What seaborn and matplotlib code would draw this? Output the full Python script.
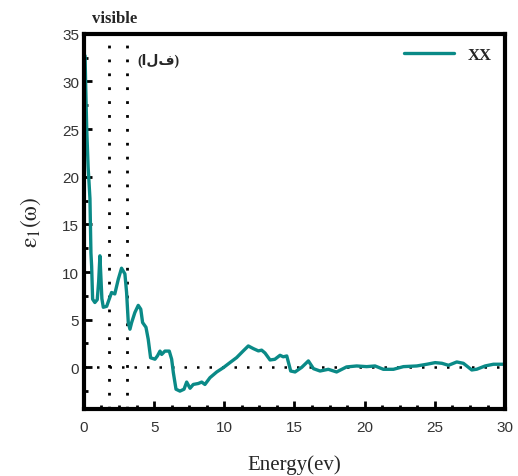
import numpy as np
import pandas as pd
import matplotlib
matplotlib.use("Agg")
import matplotlib.pyplot as plt
from matplotlib.ticker import MultipleLocator
import seaborn as sns

energy = [0.08, 0.12, 0.2, 0.3, 0.43, 0.5, 0.55, 0.62, 0.78, 0.95, 1.05, 1.14, 1.28, 1.38,
          1.62, 1.8, 1.97, 2.2, 2.45, 2.68, 2.92, 3.04, 3.16, 3.28, 3.4, 3.63, 3.87, 4.05,
          4.18, 4.42, 4.58, 4.75, 5.06, 5.24, 5.42, 5.54, 5.77, 6.08, 6.25, 6.37, 6.56,
          6.84, 7.13, 7.32, 7.56, 7.79, 8.15, 8.39, 8.62, 8.98, 9.46, 9.93, 10.4, 10.88,
          11.35, 11.71, 12.07, 12.43, 12.66, 12.9, 13.26, 13.6, 13.97, 14.2, 14.45, 14.73,
          15.04, 15.52, 15.99, 16.35, 16.82, 17.41, 18.0, 18.71, 19.43, 20.14, 20.74, 21.33,
          22.05, 22.76, 23.71, 24.43, 25.02, 25.5, 25.97, 26.56, 27.03, 27.63, 27.99, 28.58,
          29.17, 29.77, 30.0]
eps1 = [32.7, 30.0, 25.0, 21.0, 17.7, 12.0, 10.6, 7.15, 6.8, 7.1, 9.0, 11.7, 7.2, 6.3,
        6.4, 7.15, 7.85, 7.7, 9.25, 10.4, 9.8, 7.85, 4.7, 4.0, 4.7, 5.75, 6.5, 6.1,
        4.7, 4.2, 2.95, 1.0, 0.85, 1.2, 1.7, 1.35, 1.7, 1.7, 0.85, -0.56, -2.3,
        -2.5, -2.3, -1.55, -2.2, -1.8, -1.7, -1.55, -1.8, -1.09, -0.49, -0.04, 0.49, 1.02,
        1.72, 2.24, 1.96, 1.72, 1.8, 1.5, 0.77, 0.84, 1.26, 1.1, 1.19, -0.39,
        -0.49, 0.0, 0.67, -0.14, -0.39, -0.21, -0.49, 0.04, 0.14, 0.07, 0.14, -0.21,
        -0.21, 0.07, 0.14, 0.32, 0.49, 0.42, 0.21, 0.56, 0.42, -0.28, -0.2, 0.14,
        0.32, 0.32, 0.32]

visible_edges = [1.78, 3.1]

df = pd.DataFrame({"energy": energy, "eps1": eps1})

sns.set_style("ticks")
plt.rcParams["font.family"] = ["Liberation Sans", "DejaVu Sans"]
plt.rcParams["mathtext.fontset"] = "stix"

fig = plt.figure(figsize=(5.18, 4.77), dpi=100)
ax = fig.add_axes([0.162, 0.140, 0.813, 0.787])

sns.lineplot(data=df, x="energy", y="eps1", color="#0a8a87", linewidth=2.4,
             label="XX", ax=ax)

# zero line and visible-range markers
ax.axhline(0, color="black", linestyle=(0, (1, 4)), linewidth=1.8, zorder=1)
for e in visible_edges:
    ax.axvline(e, ymax=0.985, color="black", linestyle=(0, (1, 4)), linewidth=2, zorder=1)

ax.set_xlim(0, 30)
ax.set_ylim(-4.4, 35)
ax.xaxis.set_major_locator(MultipleLocator(5))
ax.xaxis.set_minor_locator(MultipleLocator(1.25))
ax.yaxis.set_major_locator(MultipleLocator(5))
ax.yaxis.set_minor_locator(MultipleLocator(2.5))
ax.tick_params(which="major", direction="in", length=6, width=2, labelsize=11,
               colors="black", labelcolor="#333333")
ax.tick_params(which="minor", direction="in", length=3, width=2, colors="black")
ax.tick_params(axis="x", pad=8)

for sp in ax.spines.values():
    sp.set_visible(True)
    sp.set_linewidth(3)
    sp.set_color("black")

ax.set_xlabel("Energy(ev)", family="Liberation Serif", fontsize=15, labelpad=14)
ax.set_ylabel(r"$\mathrm{\varepsilon_1(\omega)}$", fontsize=17, labelpad=14)

ax.text(2.2, 35.8, "visible", family="Liberation Serif", fontweight="bold",
        fontsize=12, ha="center", va="bottom")
ax.text(3.8, 32.3, "(الف)", family=["Liberation Serif", "DejaVu Sans"], fontweight="bold",
        fontsize=10, ha="left", va="center")

leg = ax.legend(loc="upper right", frameon=False, fontsize=12, handlelength=3,
                prop={"family": "Liberation Serif", "weight": "bold", "size": 12},
                borderaxespad=0.4)

fig.savefig("out.png", dpi=100)
